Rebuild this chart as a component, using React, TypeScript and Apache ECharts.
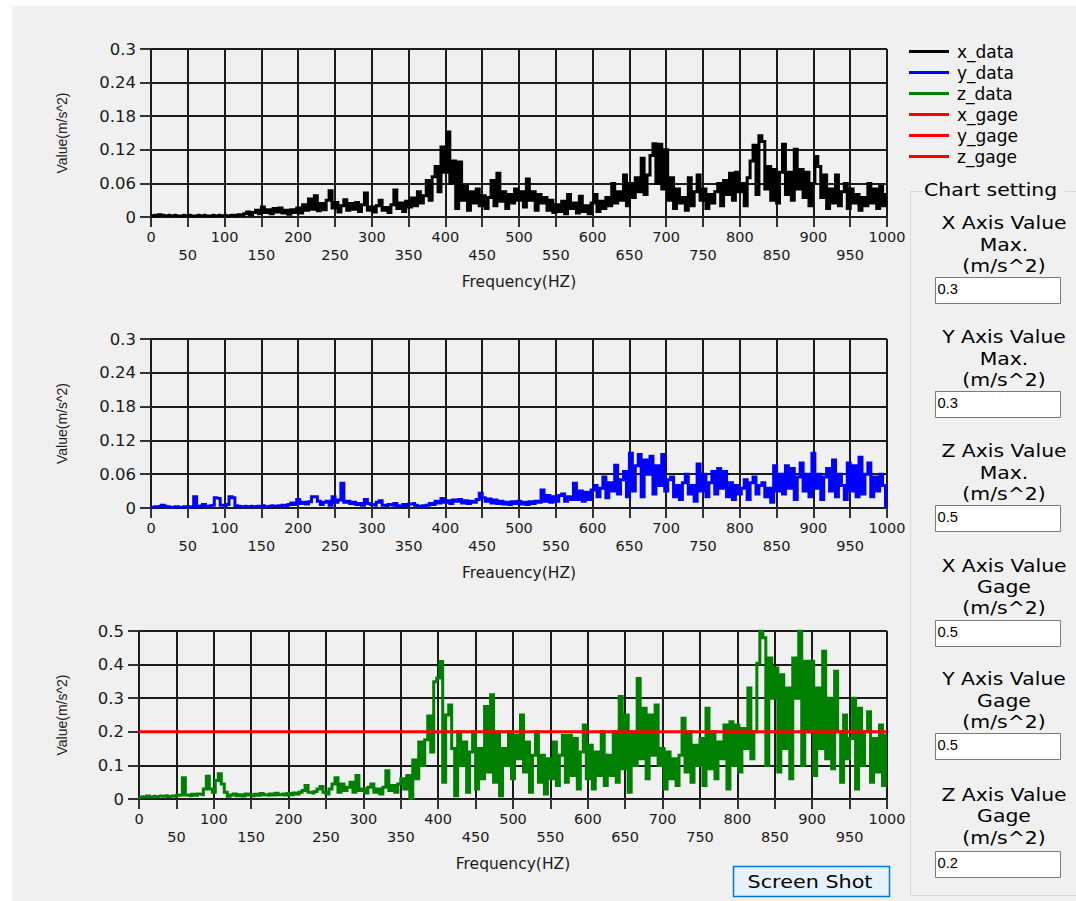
import React, { useEffect, useRef } from 'react';
import * as echarts from 'echarts';

// ---- sampling grid of the spectra ----
const FREQ_STEP = 4;
const FREQ_MIN = 0;
const FREQ_MAX = 1000;
const FREQ_INTERVAL = 50;

// ---- x_data (m/s^2), one value every 4 Hz from 0 to 1000 ----
const X_DATA = [
  0.002, 0.003, 0.002, 0.004, 0.003, 0.002, 0.003, 0.002, 0.003, 0.002, 0.002, 0.003, 0.002, 0.003, 0.002, 0.002, 0.003, 0.002, 0.003, 0.002, 0.002, 0.003, 0.002, 0.003, 0.002,
  0.003, 0.002, 0.003, 0.003, 0.002, 0.004, 0.003, 0.006, 0.009, 0.004, 0.008, 0.012, 0.006, 0.018, 0.008, 0.013, 0.006, 0.015, 0.009, 0.016, 0.007, 0.012, 0.005, 0.013, 0.008,
  0.016, 0.007, 0.022, 0.012, 0.032, 0.014, 0.038, 0.011, 0.024, 0.013, 0.03, 0.047, 0.016, 0.026, 0.009, 0.02, 0.031, 0.012, 0.024, 0.014, 0.026, 0.01, 0.022, 0.043, 0.012,
  0.018, 0.009, 0.02, 0.03, 0.012, 0.017, 0.008, 0.022, 0.048, 0.015, 0.025, 0.01, 0.028, 0.018, 0.034, 0.02, 0.045, 0.025, 0.038, 0.065, 0.03, 0.072, 0.09, 0.045, 0.125,
  0.08, 0.152, 0.06, 0.1, 0.015, 0.098, 0.03, 0.055, 0.012, 0.045, 0.025, 0.05, 0.02, 0.038, 0.015, 0.035, 0.065, 0.02, 0.078, 0.028, 0.045, 0.015, 0.04, 0.025, 0.05,
  0.03, 0.045, 0.018, 0.068, 0.03, 0.045, 0.012, 0.04, 0.025, 0.035, 0.012, 0.03, 0.008, 0.022, 0.01, 0.028, 0.006, 0.04, 0.015, 0.025, 0.007, 0.037, 0.01, 0.02, 0.006,
  0.025, 0.04, 0.01, 0.028, 0.015, 0.035, 0.02, 0.06, 0.025, 0.045, 0.03, 0.075, 0.02, 0.06, 0.035, 0.07, 0.045, 0.105, 0.04, 0.075, 0.11, 0.131, 0.06, 0.13, 0.05,
  0.12, 0.03, 0.07, 0.015, 0.05, 0.025, 0.035, 0.012, 0.07, 0.02, 0.045, 0.075, 0.03, 0.05, 0.015, 0.04, 0.025, 0.045, 0.06, 0.02, 0.065, 0.04, 0.078, 0.03, 0.08,
  0.045, 0.06, 0.02, 0.07, 0.1, 0.128, 0.04, 0.145, 0.135, 0.05, 0.09, 0.03, 0.085, 0.025, 0.08, 0.13, 0.04, 0.08, 0.03, 0.121, 0.05, 0.085, 0.035, 0.08, 0.02,
  0.06, 0.108, 0.09, 0.035, 0.075, 0.015, 0.05, 0.025, 0.075, 0.02, 0.045, 0.06, 0.015, 0.05, 0.025, 0.04, 0.012, 0.035, 0.02, 0.06, 0.025, 0.05, 0.015, 0.055, 0.02, 0.04,
];

// ---- y_data ----
const Y_DATA = [
  0.001, 0.002, 0.002, 0.003, 0.005, 0.003, 0.002, 0.001, 0.002, 0.002, 0.001, 0.002, 0.002, 0.002, 0.001, 0.02, 0.003, 0.004, 0.006, 0.003, 0.004, 0.005, 0.018, 0.017, 0.005,
  0.004, 0.006, 0.02, 0.018, 0.004, 0.003, 0.002, 0.003, 0.002, 0.003, 0.002, 0.003, 0.003, 0.004, 0.002, 0.003, 0.004, 0.003, 0.004, 0.003, 0.005, 0.004, 0.006, 0.009, 0.006,
  0.015, 0.008, 0.01, 0.007, 0.011, 0.02, 0.02, 0.012, 0.006, 0.01, 0.012, 0.005, 0.02, 0.01, 0.014, 0.044, 0.01, 0.012, 0.008, 0.01, 0.006, 0.008, 0.005, 0.015, 0.008,
  0.006, 0.005, 0.01, 0.013, 0.005, 0.004, 0.006, 0.005, 0.008, 0.004, 0.003, 0.006, 0.004, 0.007, 0.008, 0.005, 0.003, 0.004, 0.002, 0.005, 0.008, 0.006, 0.012, 0.009, 0.017,
  0.01, 0.013, 0.008, 0.014, 0.012, 0.015, 0.009, 0.013, 0.008, 0.012, 0.01, 0.015, 0.026, 0.018, 0.012, 0.016, 0.009, 0.014, 0.008, 0.012, 0.007, 0.01, 0.006, 0.011, 0.008,
  0.012, 0.007, 0.01, 0.006, 0.011, 0.008, 0.012, 0.01, 0.032, 0.012, 0.022, 0.01, 0.02, 0.012, 0.022, 0.025, 0.012, 0.02, 0.015, 0.044, 0.015, 0.03, 0.012, 0.028, 0.015,
  0.032, 0.04, 0.02, 0.035, 0.055, 0.018, 0.045, 0.03, 0.076, 0.025, 0.05, 0.065, 0.02, 0.097, 0.03, 0.075, 0.095, 0.02, 0.085, 0.06, 0.092, 0.025, 0.075, 0.04, 0.095,
  0.03, 0.05, 0.055, 0.02, 0.04, 0.015, 0.045, 0.06, 0.025, 0.04, 0.012, 0.078, 0.03, 0.06, 0.02, 0.045, 0.065, 0.025, 0.07, 0.035, 0.065, 0.02, 0.045, 0.015, 0.04,
  0.025, 0.035, 0.05, 0.015, 0.045, 0.055, 0.025, 0.04, 0.045, 0.02, 0.035, 0.01, 0.075, 0.03, 0.06, 0.025, 0.075, 0.035, 0.07, 0.015, 0.055, 0.08, 0.03, 0.06, 0.02,
  0.097, 0.035, 0.06, 0.015, 0.055, 0.07, 0.03, 0.085, 0.02, 0.06, 0.04, 0.015, 0.08, 0.03, 0.075, 0.02, 0.09, 0.025, 0.06, 0.08, 0.02, 0.055, 0.03, 0.06, 0.04, 0.002,
];

// ---- z_data ----
const Z_DATA = [
  0.005, 0.007, 0.006, 0.009, 0.006, 0.008, 0.007, 0.009, 0.008, 0.01, 0.007, 0.009, 0.008, 0.011, 0.012, 0.063, 0.012, 0.01, 0.014, 0.011, 0.015, 0.013, 0.03, 0.068, 0.03,
  0.02, 0.055, 0.075, 0.045, 0.02, 0.008, 0.012, 0.015, 0.01, 0.013, 0.009, 0.015, 0.012, 0.01, 0.014, 0.011, 0.016, 0.013, 0.011, 0.015, 0.012, 0.017, 0.013, 0.015, 0.012,
  0.016, 0.013, 0.018, 0.015, 0.02, 0.025, 0.04, 0.02, 0.018, 0.022, 0.03, 0.037, 0.02, 0.015, 0.03, 0.045, 0.063, 0.02, 0.045, 0.025, 0.035, 0.05, 0.02, 0.07, 0.025,
  0.03, 0.018, 0.035, 0.045, 0.02, 0.03, 0.015, 0.035, 0.084, 0.025, 0.04, 0.02, 0.045, 0.06, 0.03, 0.07, 0.002, 0.116, 0.06, 0.17, 0.1, 0.176, 0.247, 0.14, 0.349,
  0.36, 0.409, 0.05, 0.25, 0.28, 0.15, 0.01, 0.2, 0.1, 0.17, 0.02, 0.14, 0.2, 0.03, 0.15, 0.06, 0.275, 0.08, 0.31, 0.05, 0.2, 0.01, 0.15, 0.1, 0.2,
  0.06, 0.19, 0.12, 0.25, 0.08, 0.17, 0.02, 0.13, 0.2, 0.05, 0.13, 0.015, 0.12, 0.06, 0.17, 0.04, 0.13, 0.19, 0.05, 0.19, 0.07, 0.18, 0.03, 0.14, 0.22,
  0.06, 0.16, 0.03, 0.14, 0.07, 0.2, 0.04, 0.13, 0.07, 0.2, 0.05, 0.305, 0.09, 0.25, 0.02, 0.2, 0.1, 0.359, 0.12, 0.27, 0.06, 0.25, 0.13, 0.28, 0.1,
  0.15, 0.03, 0.14, 0.06, 0.12, 0.04, 0.13, 0.24, 0.08, 0.2, 0.05, 0.16, 0.1, 0.18, 0.04, 0.27, 0.09, 0.2, 0.06, 0.17, 0.12, 0.22, 0.03, 0.23, 0.1,
  0.22, 0.08, 0.21, 0.15, 0.33, 0.12, 0.2, 0.404, 0.5, 0.48, 0.1, 0.42, 0.3, 0.39, 0.08, 0.37, 0.15, 0.33, 0.06, 0.42, 0.3, 0.5, 0.1, 0.41, 0.2,
  0.41, 0.07, 0.33, 0.15, 0.44, 0.12, 0.3, 0.09, 0.38, 0.2, 0.05, 0.25, 0.12, 0.18, 0.3, 0.03, 0.27, 0.1, 0.2, 0.26, 0.05, 0.18, 0.08, 0.22, 0.04, 0.19,
];

// ---- chart settings (axis maxima and gage levels) ----
const X_VALUE_MAX = 0.3;
const Y_VALUE_MAX = 0.3;
const Z_VALUE_MAX = 0.5;
const X_TICK_INTERVAL = 0.06;
const Y_TICK_INTERVAL = 0.06;
const Z_TICK_INTERVAL = 0.1;
const X_GAGE = 0.5;
const Y_GAGE = 0.5;
const Z_GAGE = 0.2;

// ---- texts ----
const SERIES_NAMES = ['x_data', 'y_data', 'z_data', 'x_gage', 'y_gage', 'z_gage'];
const SERIES_COLORS = ['#000000', '#0000ff', '#008000', '#ff0000', '#ff0000', '#ff0000'];
const FREQ_TITLES = ['Frequency(HZ)', 'Freauency(HZ)', 'Frequency(HZ)'];
const VALUE_TITLE = 'Value(m/s^2)';
const SETTING_TITLE = 'Chart setting';
const SETTING_LABELS = [
  ['X Axis Value', 'Max.', '(m/s^2)'],
  ['Y Axis Value', 'Max.', '(m/s^2)'],
  ['Z Axis Value', 'Max.', '(m/s^2)'],
  ['X Axis Value', 'Gage', '(m/s^2)'],
  ['Y Axis Value', 'Gage', '(m/s^2)'],
  ['Z Axis Value', 'Gage', '(m/s^2)'],
];
const SETTING_VALUES = [X_VALUE_MAX, Y_VALUE_MAX, Z_VALUE_MAX, X_GAGE, Y_GAGE, Z_GAGE];
const BUTTON_LABEL = 'Screen Shot';

const toPairs = (arr: number[]) => arr.map((v, i) => [FREQ_MIN + i * FREQ_STEP, v]);

export default function App() {
  const ref = useRef<HTMLDivElement>(null);

  useEffect(() => {
    if (!ref.current) return;
    const chart = echarts.init(ref.current, null, { renderer: 'svg', width: 1076, height: 901 });

    const grids = [
      { left: 151, top: 49, width: 736, height: 168 },
      { left: 151, top: 339, width: 736, height: 169 },
      { left: 139, top: 631, width: 748, height: 168 },
    ];
    const yMax = [X_VALUE_MAX, Y_VALUE_MAX, Z_VALUE_MAX];
    const yInt = [X_TICK_INTERVAL, Y_TICK_INTERVAL, Z_TICK_INTERVAL];
    const yNameGap = [82, 82, 70];

    const gridLine = { color: '#1c1c1c', width: 2 };

    const xAxes = grids.map((_, i) => ({
      type: 'value',
      gridIndex: i,
      min: FREQ_MIN,
      max: FREQ_MAX,
      interval: FREQ_INTERVAL,
      axisLine: { show: true, onZero: false, lineStyle: gridLine },
      axisTick: { show: true, length: 10, lineStyle: { color: '#333', width: 2 } },
      axisLabel: {
        margin: 11,
        fontFamily: 'DejaVu Sans',
        fontSize: 14.5,
        lineHeight: 18,
        color: '#1a1a1a',
        formatter: (v: number) => (v % 100 === 0 ? String(v) : '\n' + v),
      },
      splitLine: { show: true, lineStyle: gridLine },
      name: FREQ_TITLES[i],
      nameLocation: 'middle',
      nameGap: 57,
      nameTextStyle: { fontFamily: 'DejaVu Sans', fontSize: 15.5, color: '#1a1a1a' },
    }));

    const yAxes = grids.map((_, i) => ({
      type: 'value',
      gridIndex: i,
      min: 0,
      max: yMax[i],
      interval: yInt[i],
      axisLine: { show: true, lineStyle: gridLine },
      axisTick: { show: true, length: 11, lineStyle: { color: '#333', width: 2 } },
      axisLabel: {
        margin: 15,
        fontFamily: 'DejaVu Sans',
        fontSize: 16.5,
        color: '#1a1a1a',
        formatter: (v: number) => String(Number(v.toFixed(2))),
      },
      splitLine: { show: true, lineStyle: gridLine },
      name: VALUE_TITLE,
      nameLocation: 'middle',
      nameRotate: 90,
      nameGap: yNameGap[i],
      nameTextStyle: { fontFamily: 'Liberation Sans', fontSize: 14, color: '#222' },
    }));

    const dataSets = [X_DATA, Y_DATA, Z_DATA];
    const gages = [X_GAGE, Y_GAGE, Z_GAGE];
    const series: any[] = [];
    dataSets.forEach((d, i) => {
      series.push({
        name: SERIES_NAMES[i],
        type: 'line',
        xAxisIndex: i,
        yAxisIndex: i,
        data: toPairs(d),
        step: 'middle',
        symbol: 'none',
        showSymbol: false,
        color: SERIES_COLORS[i],
        lineStyle: { width: 3, color: SERIES_COLORS[i], join: 'miter' },
        clip: true,
        silent: true,
        z: 3,
      });
    });
    gages.forEach((g, i) => {
      series.push({
        name: SERIES_NAMES[3 + i],
        type: 'line',
        xAxisIndex: i,
        yAxisIndex: i,
        data: [[FREQ_MIN, g], [FREQ_MAX, g]],
        symbol: 'none',
        showSymbol: false,
        color: SERIES_COLORS[3 + i],
        lineStyle: { width: 3, color: SERIES_COLORS[3 + i] },
        clip: true,
        silent: true,
        z: 4,
      });
    });

    // ---- right-hand "Chart setting" panel ----
    const FONT = 'DejaVu Sans';
    const STRETCH = 1.2;
    const text = (t: string, x: number, y: number, align: string, size: number, scaleX: number, family = FONT) => ({
      type: 'text',
      x,
      y,
      scaleX,
      silent: true,
      style: {
        text: t,
        fill: '#000',
        fontFamily: family,
        fontSize: size,
        textAlign: align,
        align,
        textVerticalAlign: 'middle',
        verticalAlign: 'middle',
      },
    });
    const hline = (x1: number, x2: number, y: number, color: string) => ({
      type: 'line', silent: true, shape: { x1, y1: y, x2, y2: y }, style: { stroke: color, lineWidth: 1 },
    });
    const vline = (x: number, y1: number, y2: number, color: string) => ({
      type: 'line', silent: true, shape: { x1: x, y1, x2: x, y2 }, style: { stroke: color, lineWidth: 1 },
    });

    const labelY = [
      [222.7, 244.7, 266],
      [336.7, 358.7, 380],
      [450.7, 472.7, 494],
      [565.7, 587.5, 608.5],
      [679, 701, 722],
      [795, 816.5, 838],
    ];
    const boxY = [277, 391, 505, 620, 733, 851];
    const graphics: any[] = [];
    const border = '#d8d8d8';
    graphics.push(vline(910.5, 191, 896, border));
    graphics.push(hline(910, 1076, 895.5, border));
    graphics.push(hline(910, 922, 191.5, border));
    graphics.push(hline(1065, 1076, 191.5, border));
    graphics.push(text(SETTING_TITLE, 924, 190, 'left', 17, STRETCH));
    SETTING_LABELS.forEach((lines, b) => {
      lines.forEach((t, k) => graphics.push(text(t, 1004, labelY[b][k], 'center', 17, STRETCH)));
      graphics.push({
        type: 'rect', silent: true,
        shape: { x: 935.5, y: boxY[b] + 0.5, width: 125, height: 26 },
        style: { fill: '#ffffff', stroke: '#7a7a7a', lineWidth: 1 },
      });
      graphics.push(text(String(SETTING_VALUES[b]), 937.5, boxY[b] + 12, 'left', 14, 1.05, 'Liberation Sans'));
    });
    graphics.push({
      type: 'rect', silent: true,
      shape: { x: 733.5, y: 866.5, width: 156, height: 30 },
      style: { fill: '#e5f1fb', stroke: '#0078d7', lineWidth: 1.5 },
    });
    graphics.push(text(BUTTON_LABEL, 810, 882, 'center', 17, 1.22));

    chart.setOption({
      animation: false,
      backgroundColor: 'transparent',
      grid: grids.map((g) => ({ ...g, containLabel: false, outerBoundsMode: 'none' })),
      xAxis: xAxes,
      yAxis: yAxes,
      legend: {
        data: SERIES_NAMES,
        orient: 'vertical',
        left: 909,
        top: 43,
        padding: 0,
        itemWidth: 40,
        itemHeight: 3,
        itemGap: 4,
        icon: 'rect',
        selectedMode: false,
        textStyle: { fontFamily: FONT, fontSize: 17, lineHeight: 17, color: '#000', padding: [0, 0, 0, 3] },
      },
      series,
      graphic: { elements: graphics },
    } as any);

    return () => chart.dispose();
  }, []);

  return (
    <div style={{ position: 'absolute', left: 0, top: 0, width: 1076, height: 901, background: '#ffffff', overflow: 'hidden' }}>
      <div style={{ position: 'absolute', left: 12, top: 6, width: 1064, height: 895, background: '#f0f0f0' }} />
      <div ref={ref} style={{ position: 'absolute', left: 0, top: 0, width: 1076, height: 901 }} />
    </div>
  );
}
